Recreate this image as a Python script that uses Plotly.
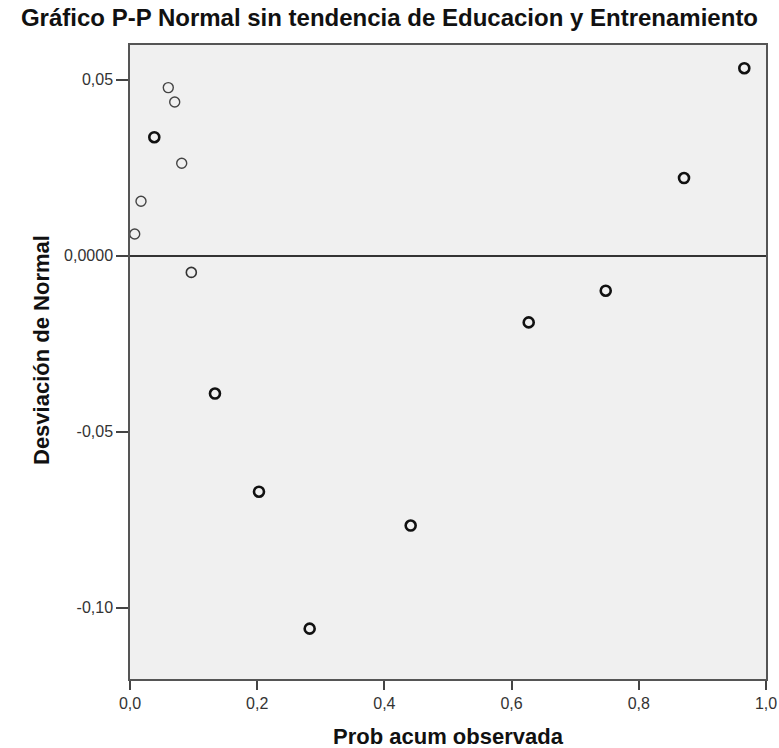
import plotly.graph_objects as go

# Detrended normal P-P data: observed cumulative probability vs. deviation from normal
prob_acum = [0.0074, 0.0173, 0.0382, 0.0602, 0.0703, 0.0813, 0.0964, 0.1336,
             0.2028, 0.2825, 0.4413, 0.6269, 0.7480, 0.8711, 0.9659]
desviacion = [0.0062, 0.0155, 0.0337, 0.0478, 0.0437, 0.0263, -0.0047, -0.0391,
              -0.0670, -0.1059, -0.0766, -0.0189, -0.0099, 0.0221, 0.0533]

x_ticks = [0.0, 0.2, 0.4, 0.6, 0.8, 1.0]
x_tick_text = ["0,0", "0,2", "0,4", "0,6", "0,8", "1,0"]
y_ticks = [0.05, 0.0, -0.05, -0.10]
y_tick_text = ["0,05", "0,0000", "-0,05", "-0,10"]

FONT = "Liberation Sans, Arial, sans-serif"

# heavier outlines where several cases overlap
ring_width = [1.4, 1.4, 2.6, 1.4, 1.4, 1.4, 1.6, 2.6, 2.6, 2.6, 2.6, 2.6, 2.6, 2.6, 2.6]
ring_color = ["#444", "#444", "#111", "#444", "#444", "#444", "#333", "#111",
              "#111", "#111", "#111", "#111", "#111", "#111", "#111"]

fig = go.Figure()
fig.add_trace(go.Scatter(
    x=prob_acum, y=desviacion, mode="markers",
    marker=dict(symbol="circle", size=10, color="rgba(0,0,0,0)",
                line=dict(width=ring_width, color=ring_color)),
    hoverinfo="x+y", showlegend=False,
))

fig.update_layout(
    width=779, height=748,
    margin=dict(l=130, r=13, t=45, b=69, autoexpand=False),
    paper_bgcolor="white", plot_bgcolor="#F0F0F0",
    font=dict(family=FONT, color="#222"),
    title=dict(text="<b>Gráfico P-P Normal sin tendencia de Educacion y Entrenamiento</b>",
               x=0.5, xanchor="center", y=1 - 18 / 748, yanchor="middle",
               font=dict(size=24, color="#111", family=FONT)),
    xaxis=dict(range=[0, 1], tickvals=x_ticks, ticktext=x_tick_text,
               ticks="outside", ticklen=9, tickwidth=1.5, tickcolor="#444",
               showline=True, linecolor="#555", linewidth=1.5, mirror=True,
               showgrid=False, zeroline=False, automargin=False,
               tickfont=dict(size=16, color="#333")),
    yaxis=dict(range=[-0.1202, 0.0599], tickvals=y_ticks, ticktext=y_tick_text,
               ticks="outside", ticklen=12, tickwidth=1.5, tickcolor="#444",
               showline=True, linecolor="#555", linewidth=1.5, mirror=True,
               showgrid=False, zeroline=True, zerolinecolor="#333", zerolinewidth=1.5,
               automargin=False, tickfont=dict(size=16, color="#333")),
    annotations=[
        dict(text="<b>Prob acum observada</b>", xref="paper", yref="paper",
             x=0.5, y=0, yshift=-57, xanchor="center", yanchor="middle",
             showarrow=False, font=dict(size=22, color="#111", family=FONT)),
        dict(text="<b>Desviación de Normal</b>", xref="paper", yref="paper",
             x=0, xshift=-89, y=(679 - 350) / 634, xanchor="center", yanchor="middle",
             textangle=-90, showarrow=False,
             font=dict(size=22, color="#111", family=FONT)),
    ],
)

fig.write_html("out.html")
